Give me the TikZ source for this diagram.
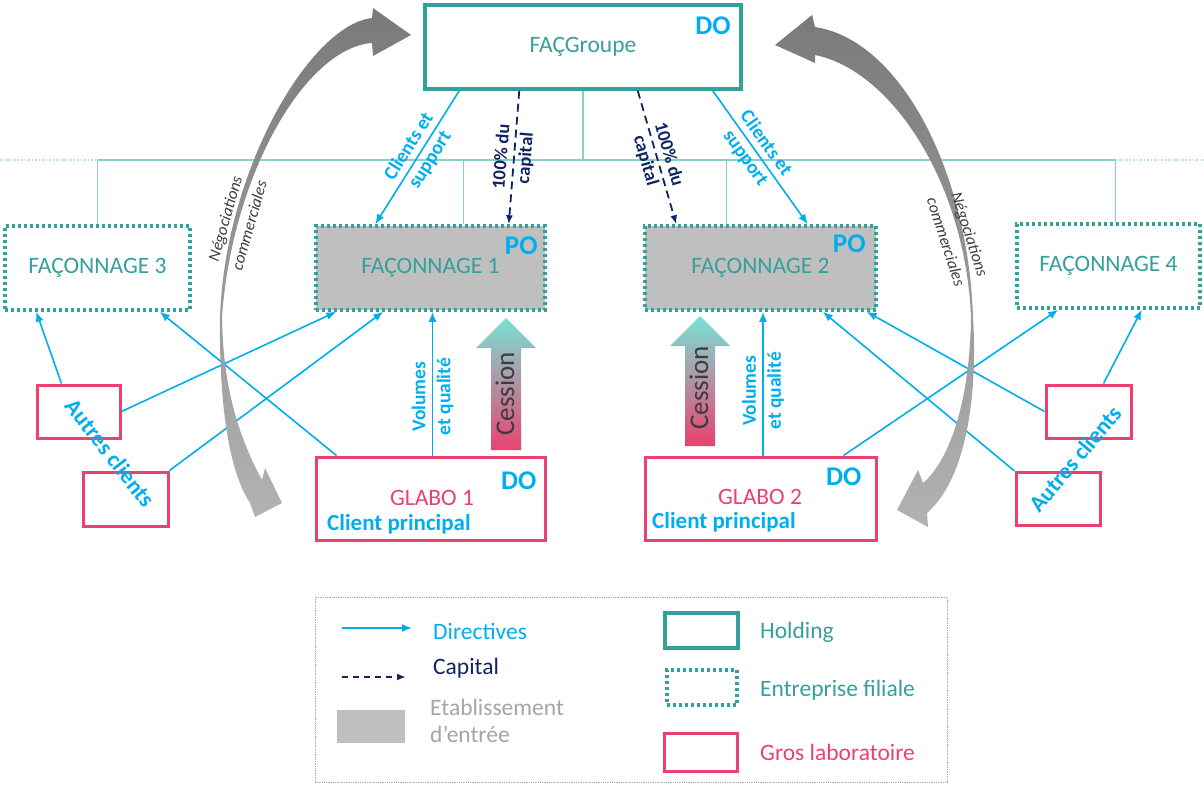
\documentclass[tikz,border=0pt]{standalone}
\usepackage{fontspec}
\setmainfont{Carlito}
\usepackage{tikz}
\usetikzlibrary{positioning,calc,arrows.meta}
\definecolor{holdteal}{RGB}{52,160,155}
\definecolor{lienteal}{RGB}{135,208,203}
\definecolor{dirblue}{RGB}{0,174,239}
\definecolor{capnavy}{RGB}{16,36,98}
\definecolor{labpink}{RGB}{233,66,112}
\definecolor{entgrey}{RGB}{191,191,191}
\definecolor{negotop}{RGB}{122,122,122}
\definecolor{negobot}{RGB}{178,178,178}
\definecolor{cestop}{RGB}{120,226,214}
\definecolor{cesmid}{RGB}{178,176,192}
\definecolor{cesbot}{RGB}{233,66,112}
\definecolor{txtdark}{RGB}{60,60,60}
\definecolor{legrey}{RGB}{165,165,165}
\tikzset{holding/.style={draw=holdteal, line width=3.5pt, text=holdteal, font=\fontsize{23.5}{28}\selectfont}}
\tikzset{filiale/.style={holding, dash pattern=on 3pt off 3pt}}
\tikzset{entree/.style={filiale, fill=entgrey}}
\tikzset{labo/.style={draw=labpink, line width=3pt}}
\tikzset{tag/.style={text=dirblue, font=\bfseries\fontsize{27}{30}\selectfont, inner sep=0pt, anchor=north east}}
\tikzset{lien/.style={draw=lienteal, line width=1.2pt}}
\tikzset{dir/.style={draw=dirblue, line width=1.6pt, -{Latex[length=10pt,width=8pt]}}}
\tikzset{capit/.style={draw=capnavy, line width=1.8pt, dash pattern=on 8pt off 5pt, -{Latex[length=9pt,width=7pt]}}}
\tikzset{dlab/.style={text=dirblue, font=\bfseries\fontsize{19.5}{25}\selectfont, align=center, inner sep=0pt, sloped}}
\tikzset{nlab/.style={text=capnavy, font=\bfseries\fontsize{18.5}{24}\selectfont, align=center, inner sep=0pt, sloped}}
\tikzset{nego/.style={text=txtdark, font=\itshape\fontsize{16.5}{25}\selectfont, align=center, inner sep=0pt}}
\tikzset{cess/.style={text=txtdark, font=\fontsize{27}{30}\selectfont, rotate=90, inner sep=0pt}}
\tikzset{leg/.style={anchor=west, inner sep=0pt, font=\fontsize{23.5}{27}\selectfont, align=left}}
\tikzset{clab/.style={text=dirblue, font=\bfseries\fontsize{23}{26}\selectfont, inner sep=0pt}}

\begin{document}
\begin{tikzpicture}[x=1pt, y=-1pt]
    \useasboundingbox (0,0) rectangle (1204,787);
    %
    \node[holding, minimum width=316pt, minimum height=84pt] (G) at (583,47) {FAÇGroupe};
    \node[filiale, minimum width=185pt, minimum height=84pt] (F3) at (97.5,268) {FAÇONNAGE 3};
    \node[entree, minimum width=229pt, minimum height=84pt] (F1) at (430.5,268) {FAÇONNAGE 1};
    \node[entree, minimum width=231pt, minimum height=84pt] (F2) at (760.5,268) {FAÇONNAGE 2};
    \node[filiale, minimum width=183pt, minimum height=84pt] (F4) at (1108.5,266) {FAÇONNAGE 4};
    \node[labo, minimum width=229pt, minimum height=83pt] (L1) at (430.5,498.5) {};
    \node[labo, minimum width=231pt, minimum height=83pt] (L2) at (760.5,498.5) {};
    \node[labo, minimum width=83pt, minimum height=53pt] (A) at (78.5,411.5) {};
    \node[labo, minimum width=85pt, minimum height=54pt] (B) at (125.5,499) {};
    \node[labo, minimum width=85pt, minimum height=53pt] (C) at (1088.5,411.5) {};
    \node[labo, minimum width=84pt, minimum height=53pt] (D) at (1058,499) {};
    %
    \node[tag] (gdo) at ([xshift=-12pt,yshift=-13pt]G.north east) {DO};
    \node[tag] (f1po) at ([xshift=-9pt,yshift=-12pt]F1.north east) {PO};
    \node[tag] (f2po) at ([xshift=-12pt,yshift=-10pt]F2.north east) {PO};
    \node[tag] (l1do) at ([xshift=-10pt,yshift=-16pt]L1.north east) {DO};
    \node[tag] (l2do) at ([xshift=-16pt,yshift=-12pt]L2.north east) {DO};
    \node[text=labpink, font=\fontsize{23.5}{28}\selectfont] (g1) at (432,498) {GLABO 1};
    \node[clab, anchor=west] (cp1) at (327,524) {Client principal};
    \node[text=labpink, font=\fontsize{23.5}{28}\selectfont] (g2) at (760,497) {GLABO 2};
    \node[clab, anchor=west] (cp2) at (652,522) {Client principal};
    \node[clab, rotate=-52] (ac1) at (110,453) {Autres clients};
    \node[clab, rotate=50] (ac2) at (1075,459) {Autres clients};
    %
    \coordinate (hb) at (0,160);
    \coordinate (hbr) at (1204,160);
    \coordinate (v1) at ([xshift=33pt]F1.north);
    \coordinate (v2) at ([xshift=-34pt]F2.north);
    \coordinate (v4) at ([xshift=7pt]F4.north);
    \draw[lien] (G.south) -- (G.south |- hb);
    \draw[lien] (F3.north) |- (v4 |- hb) -- (v4);
    \draw[lien] (v1) -- (v1 |- hb);
    \draw[lien] (v2) -- (v2 |- hb);
    \draw[lien, draw=lienteal!70, dash pattern=on 1.5pt off 2pt] (hb) -- (F3.north |- hb);
    \draw[lien, draw=lienteal!70, dash pattern=on 1.5pt off 2pt] (v4 |- hb) -- (hbr);
    %
    \draw[dir] ([xshift=36pt]G.south west) to
        node[dlab, pos=0.47]{Clients et\\support}
        ([xshift=61pt]F1.north west);
    \draw[capit] ([xshift=96pt]G.south west) to
        node[nlab, pos=0.5]{100\% du\\capital}
        ([xshift=-38pt]F1.north east);
    \draw[capit] ([xshift=-105pt]G.south east) to
        node[nlab, pos=0.5]{100\% du\\capital}
        ([xshift=33pt]F2.north west);
    \draw[dir] ([xshift=-30pt]G.south east) to
        node[dlab, pos=0.45]{Clients et\\support}
        ([xshift=-70pt]F2.north east);
    \draw[dir] ([xshift=2pt]L1.north) to
        node[dlab, pos=0.41]{Volumes\\et qualité}
        ([xshift=2pt]F1.south);
    \draw[dir] ([xshift=2.5pt]L2.north) to
        node[dlab, pos=0.45]{Volumes\\et qualité}
        ([xshift=2.5pt]F2.south);
    %
    \draw[dir] ([xshift=-17pt]A.north) -- ([xshift=33pt]F3.south west);
    \draw[dir] (A.east) -- ([xshift=22pt]F1.south west);
    \draw[dir] (B.north east) -- ([xshift=69pt]F1.south west);
    \draw[dir] ([xshift=22pt]L1.north west) -- ([xshift=-32pt]F3.south east);
    \draw[dir] ([xshift=15pt]C.north) -- ([xshift=-60pt]F4.south east);
    \draw[dir] (C.west) -- ([xshift=-11pt]F2.south east);
    \draw[dir] (D.north west) -- ([xshift=-55pt]F2.south east);
    \draw[dir] ([xshift=-34pt]L2.north east) -- ([xshift=43pt]F4.south west);
    %
    \shade[top color=cestop, middle color=cesmid, bottom color=cesbot]
        (491,450) -- (491,348) -- (476,348) -- (506,318) -- (536,348) -- (521,348) -- (521,450) -- cycle;
    \node[cess] (ces1) at (505,394) {Cession};
    \shade[top color=cestop, middle color=cesmid, bottom color=cesbot]
        (685,446) -- (685,346) -- (670,346) -- (700,316) -- (730,346) -- (715,346) -- (715,446) -- cycle;
    \node[cess] (ces2) at (699,388) {Cession};
    %
    \shade[top color=negotop, bottom color=negobot]
        (220,317) .. controls (225,170) and (310,25) .. (372,18) -- (373,8) -- (411,35) -- (373,56) -- (372,43)
        .. controls (305,48) and (232,175) .. (222,317)
        .. controls (223,380) and (235,430) .. (262,480) -- (265,468) -- (282,503) -- (255,517) -- (250,503)
        .. controls (228,470) and (219,400) .. (220,317) -- cycle;
    \node[nego, rotate=74] (n1) at (237,222) {Négociations\\commerciales};
    \shade[top color=negotop, bottom color=negobot]
        (973,317) .. controls (968,170) and (900,40) .. (815,27) -- (812,15) -- (775,45) -- (815,63) -- (815,55)
        .. controls (890,70) and (965,180) .. (971,317)
        .. controls (970,400) and (950,460) .. (923,483) -- (918,470) -- (897,510) -- (928,527) -- (927,513)
        .. controls (965,480) and (978,400) .. (973,317) -- cycle;
    \node[nego, rotate=-72] (n2) at (958,238) {Négociations\\commerciales};
    %
    \node[draw=legrey, densely dotted, line width=0.8pt, minimum width=632pt, minimum height=185pt] (leg) at (631,689.5) {};
    \coordinate (ld1) at (342,628);
    \coordinate (ld2) at (412,628);
    \draw[dir] (ld1) -- (ld2);
    \node[leg, text=dirblue] (ldir) at (433,631) {Directives};
    \coordinate (lc1) at (342,677);
    \coordinate (lc2) at (406,677);
    \draw[capit, dash pattern=on 6pt off 5pt] (lc1) -- (lc2);
    \node[leg, text=capnavy] (lcap) at (433,668) {Capital};
    \node[fill=entgrey, minimum width=68pt, minimum height=33pt, inner sep=0pt] (lent) at (371,726.5) {};
    \node[leg, text=legrey] (lenttxt) at (430,721) {Etablissement\\d’entrée};
    \node[holding, minimum width=73pt, minimum height=35pt] (lhold) at (701.5,630.5) {};
    \node[leg, text=holdteal] (lholdtxt) at (760,632) {Holding};
    \node[filiale, minimum width=70pt, minimum height=35pt] (lfil) at (702,687.5) {};
    \node[leg, text=holdteal] (lfiltxt) at (760,690) {Entreprise filiale};
    \node[labo, minimum width=73pt, minimum height=38pt] (llab) at (700.5,752) {};
    \node[leg, text=labpink] (llabtxt) at (760,752) {Gros laboratoire};
    %
\end{tikzpicture}
\end{document}
